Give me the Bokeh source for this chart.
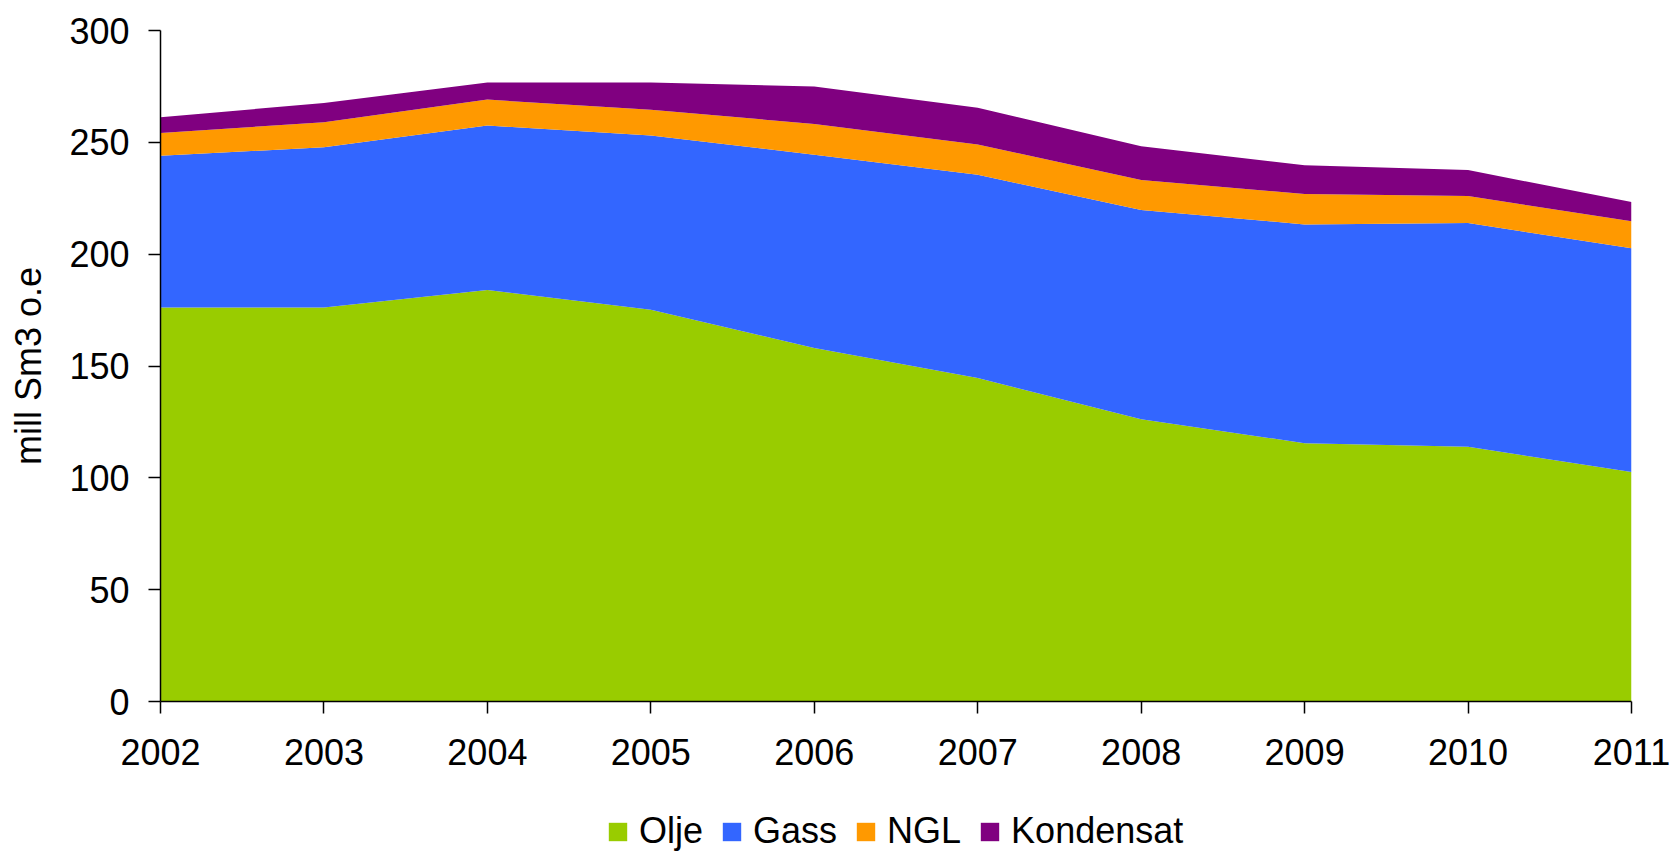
from bokeh.plotting import figure
from bokeh.models import ColumnDataSource, Legend, LegendItem, FixedTicker, Range1d
from bokeh.layouts import column
from bokeh.embed import file_html
from bokeh.resources import INLINE

years = [2002, 2003, 2004, 2005, 2006, 2007, 2008, 2009, 2010, 2011]
olje = [176.2, 176.2, 184.0, 175.2, 158.0, 144.6, 126.2, 115.5, 113.9, 102.6]
gass = [67.8, 71.6, 73.5, 77.8, 86.5, 90.9, 93.6, 97.8, 100.0, 100.0]
ngl = [10.2, 11.2, 11.6, 11.6, 13.7, 13.5, 13.4, 13.6, 12.1, 12.1]
kondensat = [7.0, 8.6, 7.7, 12.1, 16.8, 16.5, 15.0, 12.8, 11.6, 8.6]
series_names = ["Olje", "Gass", "NGL", "Kondensat"]
colors = ["#99CC00", "#3366FF", "#FF9900", "#800080"]
y_ticks = [0, 50, 100, 150, 200, 250, 300]
y_label = "mill Sm3 o.e"

FONT = "Liberation Sans"
FS = "36px"

source = ColumnDataSource(dict(year=years, Olje=olje, Gass=gass, NGL=ngl, Kondensat=kondensat))

# main chart
p = figure(width=1675, height=780, output_backend="svg", toolbar_location=None,
           x_range=Range1d(2002, 2011), y_range=Range1d(0, 300),
           min_border_left=160, min_border_right=44, min_border_top=30, min_border_bottom=79)
p.outline_line_color = None
p.xgrid.grid_line_color = None
p.ygrid.grid_line_color = None
p.background_fill_color = "white"
p.border_fill_color = "white"

p.varea_stack(series_names, x="year", color=colors, source=source)

for ax in (p.xaxis[0], p.yaxis[0]):
    ax.axis_line_color = "black"
    ax.axis_line_width = 1.5
    ax.major_tick_line_color = "black"
    ax.major_tick_line_width = 1.5
    ax.major_tick_in = 0
    ax.major_tick_out = 12
    ax.minor_tick_line_color = None
    ax.major_label_text_font = FONT
    ax.major_label_text_font_size = FS
    ax.major_label_text_color = "black"

p.xaxis.ticker = FixedTicker(ticks=years)
p.xaxis.major_label_standoff = 25

p.yaxis.ticker = FixedTicker(ticks=y_ticks)
p.yaxis.major_label_standoff = 19
p.yaxis.axis_label = y_label
p.yaxis.axis_label_text_font = FONT
p.yaxis.axis_label_text_font_size = FS
p.yaxis.axis_label_text_font_style = "normal"
p.yaxis.axis_label_text_color = "black"
p.yaxis.axis_label_standoff = 17

# legend strip below the chart (same series; their areas lie outside this strip's ranges)
lg = figure(width=1675, height=72, output_backend="svg", toolbar_location=None,
            x_range=Range1d(0, 1), y_range=Range1d(0, 1),
            x_axis_location=None, y_axis_location=None, min_border=0)
lg.outline_line_color = None
lg.xgrid.grid_line_color = None
lg.ygrid.grid_line_color = None
lg.background_fill_color = "white"
lg.border_fill_color = "white"
leg_renderers = lg.varea_stack(series_names, x="year", color=colors, source=source)

items = [LegendItem(label=n, renderers=[r]) for n, r in zip(series_names, leg_renderers)]
legend = Legend(items=items, orientation="horizontal", location=(446, 0),
                label_text_font=FONT, label_text_font_size=FS, label_text_color="black",
                glyph_width=23, glyph_height=23, label_standoff=10, spacing=17,
                border_line_color=None, background_fill_alpha=0,
                padding=0, margin=0)
lg.add_layout(legend, "center")

layout = column(p, lg, spacing=0)
open("out.html", "w").write(file_html(layout, INLINE))
